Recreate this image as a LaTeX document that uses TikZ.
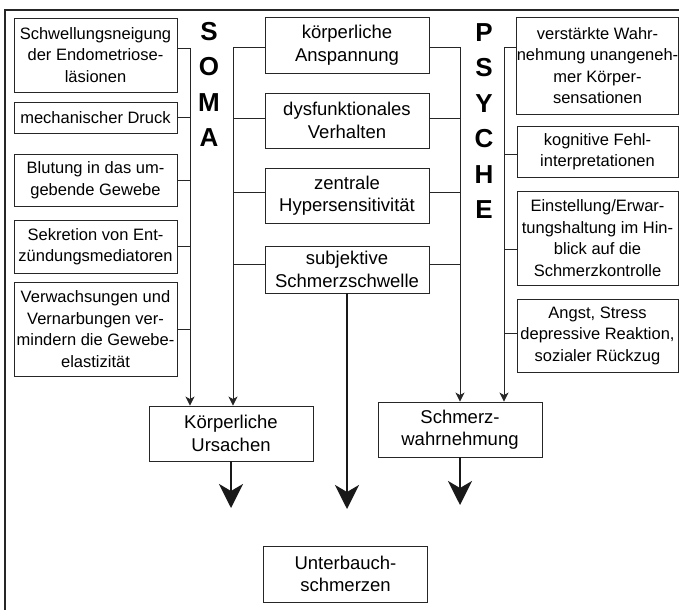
\documentclass[tikz,border=0pt]{standalone}
\usepackage{fontspec}
\setmainfont{Liberation Sans}
\usetikzlibrary{arrows.meta}

\begin{document}
\begin{tikzpicture}[x=1pt,y=-1pt,
    sidebox/.style={draw=black!85,line width=0.9pt,align=center,inner sep=0pt,
      minimum width=163pt,font=\fontsize{16.5}{21.5}\selectfont},
    mainbox/.style={draw=black!85,line width=0.9pt,align=center,inner sep=0pt,
      minimum width=164pt,font=\fontsize{18.5}{22.5}\selectfont},
    letters/.style={align=center,inner sep=0pt,anchor=north,
      font=\fontsize{26}{35.5}\selectfont\bfseries},
    feed/.style={draw=black!85,line width=0.9pt,-{Stealth[length=9pt,width=9pt,inset=2.5pt]}},
    bigarrow/.style={draw=black!90,line width=2.6pt,-{Stealth[length=24pt,width=24pt,inset=7pt]}}]
   \useasboundingbox (0,0) rectangle (679,610);
   \draw[line width=1.2pt,black!85] (679,10) -- (5,10) -- (5,610);

   \node[letters] (soma) at (209,22) {S\\O\\M\\A};
   \node[letters] (psyche) at (484,23) {P\\S\\Y\\C\\H\\E};

   \begin{scope}[every node/.style={sidebox}]
    \node[minimum height=74pt] (s1) at (95.5,55) {Schwellungsneigung\\der Endometriose-\\läsionen};
    \node[minimum height=31pt] (s2) at (95.5,117.5) {mechanischer Druck};
    \node[minimum height=52pt] (s3) at (95.5,180) {Blutung in das um-\\gebende Gewebe};
    \node[minimum height=53pt] (s4) at (95.5,246.5) {Sekretion von Ent-\\zündungsmediatoren};
    \node[minimum height=94pt] (s5) at (95.5,329) {Verwachsungen und\\Vernarbungen ver-\\mindern die Gewebe-\\elastizität};
    \node[minimum width=161pt,minimum height=97pt] (p1) at (597.5,65.5) {verstärkte Wahr-\\nehmung unangeneh-\\mer Körper-\\sensationen};
    \node[minimum width=161pt,minimum height=51pt] (p2) at (597.5,151.5) {kognitive Fehl-\\interpretationen};
    \node[minimum width=161pt,minimum height=94pt] (p3) at (597.5,238) {Einstellung/Erwar-\\tungshaltung im Hin-\\blick auf die\\Schmerzkontrolle};
    \node[minimum width=161pt,minimum height=73pt] (p4) at (597.5,335.5) {Angst, Stress\\depressive Reaktion,\\sozialer Rückzug};
   \end{scope}

   \begin{scope}[every node/.style={mainbox}]
    \node[minimum height=56pt] (ma) at (347,45) {körperliche\\Anspannung};
    \node[minimum height=55pt] (mb) at (347,120.5) {dysfunktionales\\Verhalten};
    \node[minimum height=55pt] (mc) at (347,195.5) {zentrale\\Hypersensitivität};
    \node[minimum height=47pt] (md) at (347,269.5) {subjektive\\Schmerzschwelle};
    \node[minimum height=55pt] (kur) at (231,433.5) {Körperliche\\Ursachen};
    \node[minimum height=55pt] (swn) at (460,429.5) {Schmerz-\\wahrnehmung};
    \node[minimum height=56pt] (ubs) at (345.5,574) {Unterbauch-\\schmerzen};
   \end{scope}

   \coordinate (somaL) at (190,48);
   \coordinate (somaR) at (233,47);
   \coordinate (psyL) at (460,47);
   \coordinate (psyR) at (504,47);
   \coordinate (endK) at (231,508);
   \coordinate (endM) at (347,509);
   \coordinate (endS) at (460,505);

   \begin{scope}[black!85,line width=0.9pt]
    \draw ([yshift=7pt]s1.east) -- (somaL);
    \foreach \n in {s2,s3,s4,s5}
      \draw (\n.east) -- (\n.east -| somaL);
    \foreach \n/\s in {ma/-2,mb/2.5,mc/3.5,md/5.5} {
      \draw ([yshift=\s pt]\n.west) -- ([yshift=\s pt]\n.west -| somaR);
      \draw ([yshift=\s pt]\n.east) -- ([yshift=\s pt]\n.east -| psyL);
    }
    \draw (psyR) -- (psyR -| p1.west);
    \foreach \n/\s in {p2/-2.5,p3/-11,p4/2.5}
      \draw ([yshift=\s pt]\n.west) -- ([yshift=\s pt]\n.west -| psyR);
   \end{scope}

   \draw[feed] (somaL) -- (somaL |- kur.north);
   \draw[feed] (somaR) -- (somaR |- kur.north);
   \draw[feed] (psyL) -- (psyL |- swn.north);
   \draw[feed] (psyR) -- (psyR |- swn.north);

   \draw[bigarrow] (kur) -- (endK);
   \draw[bigarrow] (md) -- (endM);
   \draw[bigarrow] (swn) -- (endS);
\end{tikzpicture}
\end{document}
